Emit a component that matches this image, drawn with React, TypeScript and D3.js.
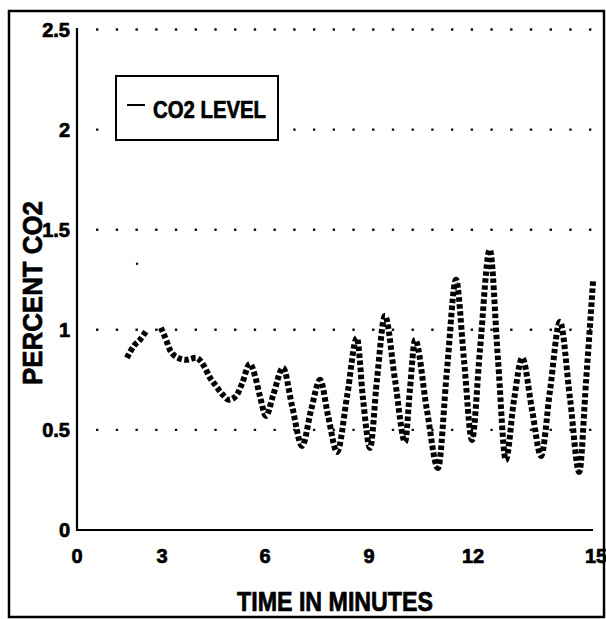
import React from "react";
import * as d3 from "d3";

const xTicks = [0, 3, 6, 9, 12, 15];
const yTicks = [0, 0.5, 1, 1.5, 2, 2.5];
const yTickLabels = ["0", "0.5", "1", "1.5", "2", "2.5"];
const gridLevels = [0.5, 1, 1.5, 2, 2.5];

// CO2 trace: time (minutes) and percent CO2, null marks a gap in the record
const co2Time = [
  1.76, 2.01, 2.22, 2.47, 2.7, 2.96, 3.12, 3.23, 3.47, 3.7, 3.99, 4.22, 4.4, 4.57, 4.75,
  4.95, 5.16, 5.33, 5.56, 5.71, 5.85, 6.03, 6.23, 6.52, 6.78, 7.07, 7.33, 7.59, 7.82,
  8.08, 8.37, 8.65, 8.83, 9.03, 9.23, 9.46, 9.75, 10.04, 10.18, 10.33, 10.67, 10.99,
  11.25, 11.51, 11.74, 11.97, 12.17, 12.41, 12.61, 12.8, 13.0, 13.2, 13.44, 13.66,
  13.88, 14.12, 14.37, 14.59, 14.76, 14.93,
];
const co2Level: (number | null)[] = [
  0.86, 0.92, 0.95, 1.0, null, 1.01, 0.95, 0.9, 0.86, 0.85, 0.86, 0.82, 0.76, 0.72, 0.68,
  0.65, 0.67, 0.73, 0.83, 0.77, 0.67, 0.57, 0.67, 0.81, 0.62, 0.42, 0.6, 0.75, 0.57,
  0.39, 0.67, 0.96, 0.65, 0.41, 0.75, 1.07, 0.75, 0.44, 0.7, 0.95, 0.6, 0.31,
  0.8, 1.25, 0.85, 0.45, 0.9, 1.4, 0.85, 0.35, 0.65, 0.86, 0.6, 0.37,
  0.7, 1.04, 0.65, 0.29, 0.75, 1.25,
];
const strayTime = [2.12];
const strayLevel = [1.33];

const legendLabel = "CO2 LEVEL";
const xTitle = "TIME IN MINUTES";
const yTitle = "PERCENT CO2";

const W = 606;
const H = 619;

export default function App() {
  // piecewise linear x scale (the scanned axis is not evenly spaced)
  const x = d3.scaleLinear().domain(xTicks).range([77, 162, 265, 369, 473, 596]);
  const y = d3.scaleLinear().domain([0, 2.5]).range([530, 29.5]);
  const pts = co2Time.map((t, i) => ({ t, v: co2Level[i] }));
  const line = d3
    .line<{ t: number; v: number | null }>()
    .defined((d) => d.v !== null)
    .x((d) => x(d.t))
    .y((d) => y(d.v as number))
    .curve(d3.curveMonotoneX);

  const narrow = "'Liberation Sans Narrow', 'Liberation Sans', Arial, sans-serif";
  const wide = "'Liberation Sans', Arial, sans-serif";
  const heavy = { stroke: "#000", strokeWidth: 0.7 };

  return (
    <svg
      width={W}
      height={H}
      style={{ position: "absolute", left: 0, top: 0, background: "#fff" }}
    >
      <rect x={0} y={0} width={W} height={H} fill="#fff" />
      {/* dotted gridlines */}
      {gridLevels.map((g) => (
        <line
          key={g}
          x1={96}
          x2={592}
          y1={y(g)}
          y2={y(g)}
          stroke="#111"
          strokeWidth={2.4}
          strokeDasharray="2.4 17.32"
        />
      ))}
      {/* axes */}
      <line x1={x(0)} x2={x(0)} y1={28} y2={y(0) + 1} stroke="#000" strokeWidth={2.2} />
      <line x1={x(0) - 1} x2={593} y1={y(0)} y2={y(0)} stroke="#000" strokeWidth={2.2} />
      {/* y tick labels */}
      {yTicks.map((t, i) => (
        <text
          key={t}
          x={70}
          y={y(t)}
          dy="0.36em"
          textAnchor="end"
          fontFamily={wide}
          fontWeight="bold"
          fontSize={20}
          {...heavy}
        >
          {yTickLabels[i]}
        </text>
      ))}
      {/* x tick labels */}
      {xTicks.map((t) => (
        <text
          key={t}
          x={x(t)}
          y={556}
          dy="0.36em"
          textAnchor="middle"
          fontFamily={wide}
          fontWeight="bold"
          fontSize={20}
          {...heavy}
        >
          {t}
        </text>
      ))}
      {/* axis titles */}
      <text
        x={237}
        y={611}
        fontFamily={narrow}
        fontWeight="bold"
        fontSize={28}
        textLength={196}
        lengthAdjust="spacingAndGlyphs"
        {...heavy}
      >
        {xTitle}
      </text>
      <text
        transform="translate(42,385) rotate(-90)"
        x={0}
        y={0}
        fontFamily={narrow}
        fontWeight="bold"
        fontSize={28}
        textLength={184}
        lengthAdjust="spacingAndGlyphs"
        {...heavy}
      >
        {yTitle}
      </text>
      {/* legend */}
      <rect x={116} y={76} width={162} height={64} fill="#fff" stroke="#000" strokeWidth={2} />
      <line x1={127} x2={145} y1={105} y2={105} stroke="#000" strokeWidth={2} />
      <text
        x={153}
        y={118}
        fontFamily={narrow}
        fontWeight="bold"
        fontSize={24}
        textLength={113}
        lengthAdjust="spacingAndGlyphs"
        {...heavy}
      >
        {legendLabel}
      </text>
      {/* data trace */}
      <path
        d={line(pts) || ""}
        fill="none"
        stroke="#000"
        strokeWidth={6}
        strokeDasharray="4.5 2.5"
      />
      {strayTime.map((t, i) => (
        <circle key={i} cx={x(t)} cy={y(strayLevel[i])} r={1.2} fill="#000" />
      ))}
      {/* outer frame */}
      <rect x={9} y={11} width={595} height={606} fill="none" stroke="#000" strokeWidth={2.5} />
    </svg>
  );
}
